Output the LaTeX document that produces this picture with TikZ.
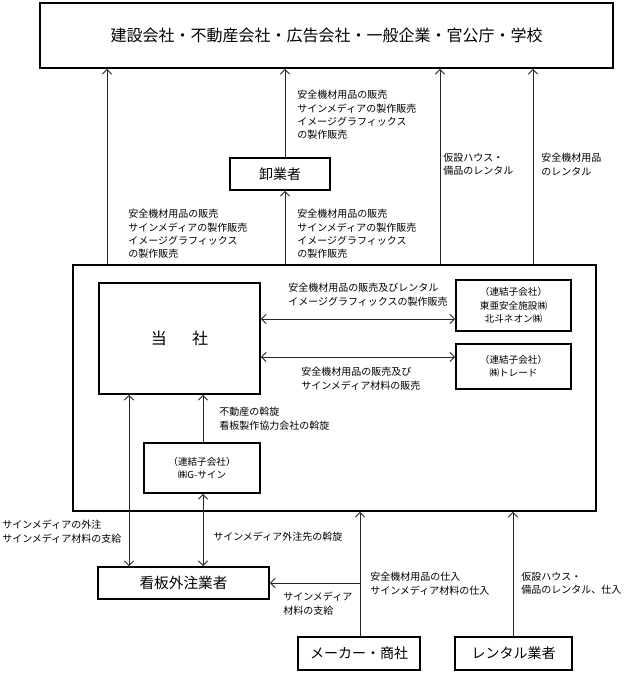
\documentclass[tikz,border=0pt]{standalone}
\usepackage{fontspec}
\setmainfont{Noto Sans CJK JP}
\usetikzlibrary{arrows.meta}
\tikzset{
  box/.style={draw, line width=1.4pt, inner sep=0pt, align=center},
  lbl/.style={anchor=north west, inner sep=0pt, align=left, font=\fontsize{7.5}{10}\selectfont},
  smalltxt/.style={font=\fontsize{7.2}{10}\selectfont},
  arr/.style={line width=0.6pt, draw=black!85, -{Straight Barb[length=3.5pt,width=7pt]}},
  darr/.style={line width=0.6pt, draw=black!85, {Straight Barb[length=3.5pt,width=7pt]}-{Straight Barb[length=3.5pt,width=7pt]}},
  ln/.style={line width=0.6pt, draw=black!85}
}
\begin{document}
\begin{tikzpicture}[x=0.75pt,y=-0.75pt]
\useasboundingbox (0,0) rectangle (627,673);
% boxes
\node[box, minimum width=429.75pt, minimum height=48.75pt, font=\fontsize{12}{14}\selectfont] (top) at (326.5,35.5) {建設会社・不動産会社・広告会社・一般企業・官公庁・学校};
\node[box, minimum width=75pt, minimum height=24pt, font=\fontsize{10.5}{12}\selectfont] (oroshi) at (280,174) {卸業者};
\node[box, minimum width=392.25pt, minimum height=184.5pt] (main) at (334.5,388) {};
\node[box, minimum width=120.75pt, minimum height=83.25pt, font=\fontsize{12}{14}\selectfont] (tosha) at (179.5,338.5) {当\hspace{19pt}社};
\node[box, minimum width=86.25pt, minimum height=38.25pt, smalltxt] (boxA) at (513.5,305.5) {（連結子会社）\\東亜安全施設㈱\\北斗ネオン㈱};
\node[box, minimum width=86.25pt, minimum height=33.75pt, smalltxt] (boxB) at (513.5,366.5) {（連結子会社）\\㈱トレード};
\node[box, minimum width=87pt, minimum height=37.5pt, smalltxt] (gsign) at (202,468) {（連結子会社）\\㈱G-サイン};
\node[box, minimum width=128.25pt, minimum height=24pt, font=\fontsize{11}{13}\selectfont] (kanban) at (183.5,583) {看板外注業者};
\node[box, minimum width=91.5pt, minimum height=24.75pt, font=\fontsize{10.5}{13}\selectfont] (maker) at (359,653.5) {メーカー・商社};
\node[box, minimum width=87.75pt, minimum height=24.75pt, font=\fontsize{10.5}{13}\selectfont] (rental) at (513.5,653.5) {レンタル業者};
% connectors to top
\draw[arr] (main.north -| 107,0) -- (top.south -| 107,0);
\draw[arr] (main.north -| 285,0) -- (oroshi.south -| 285,0);
\draw[arr] (oroshi.north -| 285,0) -- (top.south -| 285,0);
\draw[arr] (main.north -| 440,0) -- (top.south -| 440,0);
\draw[arr] (main.north -| 533,0) -- (top.south -| 533,0);
% inside main
\draw[darr] (tosha.east |- 0,319) -- (boxA.west |- 0,319);
\draw[darr] (tosha.east |- 0,357) -- (boxB.west |- 0,357);
\draw[arr] (gsign.north -| 203,0) -- (tosha.south -| 203,0);
% lower
\draw[darr] (tosha.south -| 129,0) -- (kanban.north -| 129,0);
\draw[darr] (gsign.south -| 203,0) -- (kanban.north -| 203,0);
\draw[arr] (maker.north -| 360,0) -- (main.south -| 360,0);
\coordinate (branch) at (360,583);
\draw[arr] (branch) -- (kanban.east |- branch);
\draw[arr] (rental.north -| 513,0) -- (main.south -| 513,0);
% labels
\node[lbl] (l1) at (128,209) {安全機材用品の販売\\サインメディアの製作販売\\イメージグラフィックス\\の製作販売};
\node[lbl] (l2) at (297,209) {安全機材用品の販売\\サインメディアの製作販売\\イメージグラフィックス\\の製作販売};
\node[lbl] (l3) at (297,90) {安全機材用品の販売\\サインメディアの製作販売\\イメージグラフィックス\\の製作販売};
\node[lbl] (l4) at (443,153) {仮設ハウス・\\備品のレンタル};
\node[lbl] (l5) at (541,153) {安全機材用品\\のレンタル};
\node[lbl] (l6) at (288,283) {安全機材用品の販売及びレンタル\\イメージグラフィックスの製作販売};
\node[lbl] (l7) at (301,367) {安全機材用品の販売及び\\サインメディア材料の販売};
\node[lbl] (l8) at (219,407) {不動産の斡旋\\看板製作協力会社の斡旋};
\node[lbl] (l9) at (2,520) {サインメディアの外注\\サインメディア材料の支給};
\node[lbl] (l10) at (213,532) {サインメディア外注先の斡旋};
\node[lbl] (l11) at (370,572) {安全機材用品の仕入\\サインメディア材料の仕入};
\node[lbl] (l12) at (283,592) {サインメディア\\材料の支給};
\node[lbl] (l13) at (521,572) {仮設ハウス・\\備品のレンタル、仕入};
\end{tikzpicture}
\end{document}
